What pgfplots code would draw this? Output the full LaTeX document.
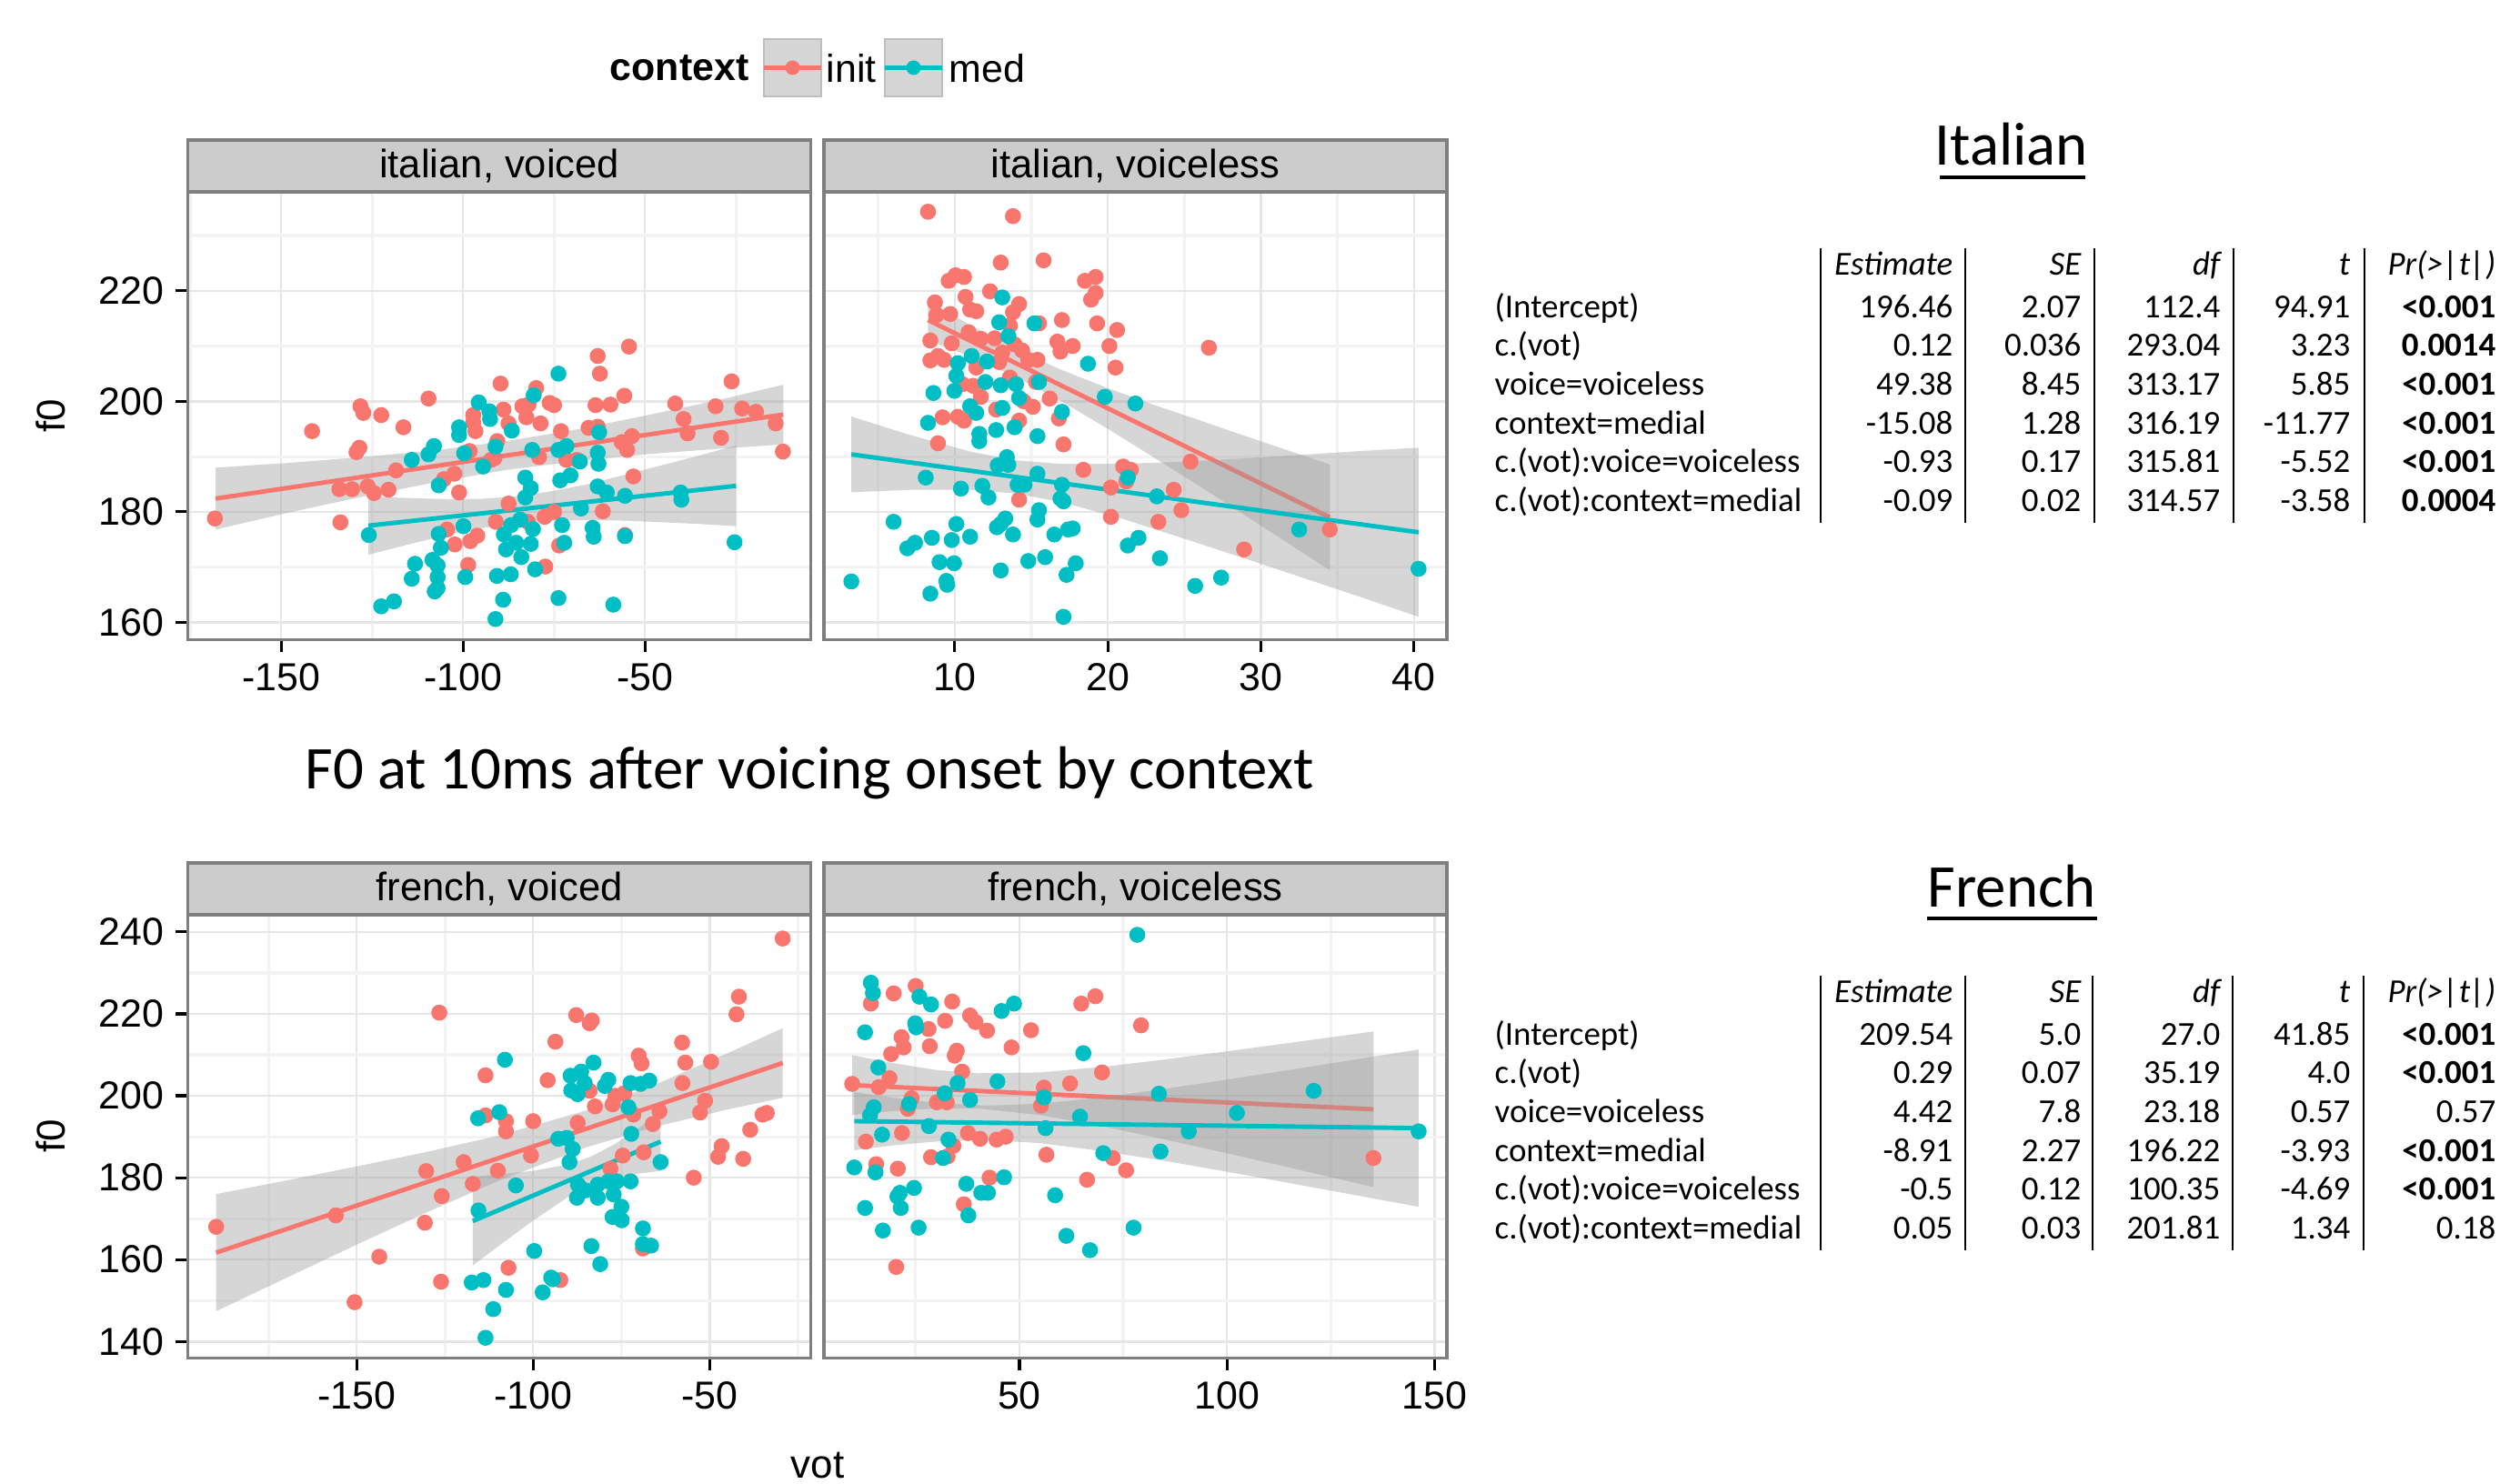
\documentclass[border=0pt]{standalone}
\usepackage{pgfplots}
\pgfplotsset{compat=1.18}
\usepackage{fontspec}
\setmainfont{Liberation Sans}
\newfontfamily\gill{Carlito}
\definecolor{ggred}{HTML}{F8766D}
\definecolor{ggcyan}{HTML}{00BFC4}
\definecolor{gridmaj}{HTML}{E6E6E6}
\definecolor{gridmin}{HTML}{F3F3F3}
\definecolor{panelborder}{HTML}{7F7F7F}
\definecolor{stripfill}{HTML}{CCCCCC}
\definecolor{bandgray}{HTML}{999999}
\definecolor{keyfill}{HTML}{D6D6D6}
\definecolor{keyborder}{HTML}{BEBEBE}
\pgfplotsset{
 ggpanel/.style={
  scale only axis, width=6.85cm,
  axis line style={draw=panelborder, line width=0.9pt},
  tick align=outside, tick pos=left,
  major tick length=0.14cm, minor tick length=0pt,
  tick style={black, line width=0.9pt},
  xmajorgrids, ymajorgrids, xminorgrids, yminorgrids,
  major grid style={gridmaj, line width=0.7pt},
  minor grid style={gridmin, line width=0.9pt},
  tick label style={font=\fontsize{12.2}{14}\selectfont, black},
 },
 toprow/.style={height=4.923cm, ymin=156.9, ymax=237.9, ytick={160,180,200,220}, yticklabels={160,180,200,220}, minor ytick={170,190,210,230}},
 botrow/.style={height=4.873cm, ymin=136.0, ymax=244.2, ytick={140,160,180,200,220,240}, yticklabels={140,160,180,200,220,240}, minor ytick={150,170,190,210,230}},
 noy/.style={ymajorticks=false, yticklabels={}},
 ptred/.style={only marks, mark=*, mark size=2.3pt, color=ggred, mark options={draw=none}},
 ptcyan/.style={only marks, mark=*, mark size=2.3pt, color=ggcyan, mark options={draw=none}},
 band/.style={fill=bandgray, fill opacity=0.4, draw=none},
 fitred/.style={ggred, line width=1.4pt, no marks},
 fitcyan/.style={ggcyan, line width=1.4pt, no marks},
}
\newcommand{\trow}[7]{%
 \node[anchor=mid west,inner sep=0] at (16.43,#1) {#2};
 \node[anchor=mid east,inner sep=0] at (21.48,#1) {#3};
 \node[anchor=mid east,inner sep=0] at (22.89,#1) {#4};
 \node[anchor=mid east,inner sep=0] at (24.42,#1) {#5};
 \node[anchor=mid east,inner sep=0] at (25.85,#1) {#6};
 \node[anchor=mid east,inner sep=0] at (27.45,#1) {#7};}
\begin{document}
\begin{tikzpicture}
\useasboundingbox (0,0) rectangle (27.49,16.32);
% ---------------- top left: italian, voiced
\begin{axis}[ggpanel, toprow, at={(2.067cm,9.287cm)}, anchor=south west,
 xmin=-175.6, xmax=-4.4, xtick={-150,-100,-50}, xticklabels={-150,-100,-50}, minor xtick={-175,-125,-75,-25}]
\addplot[ptred] coordinates {(-168.2,178.8) (-141.5,194.6) (-133.7,178.1) (-134,184.1) (-130.5,184.1) (-129.3,190.8) (-128.5,191.6) (-128.2,199.1) (-127.4,197.9) (-126.2,184.6) (-124.5,183.4) (-122.5,197.5) (-120.5,184) (-118.4,187.5) (-116.4,195.3) (-109.5,200.5) (-105.3,185.9) (-104.4,176.8) (-102.4,186.9) (-102.3,174.1) (-101.1,183.5) (-98.6,170.4) (-98.2,191) (-98,174.7) (-97.2,197.5) (-97.2,196.2) (-96.6,194.6) (-96.1,175.7) (-92.3,189.4) (-91.4,189.7) (-91,178.2) (-90.6,192.8) (-89.7,203.2) (-88.9,198.5) (-87.5,196) (-87.5,181.5) (-83.7,199.1) (-82.6,197.1) (-82,199.4) (-82.2,178.2) (-79.9,202.4) (-79.1,189.9) (-78.7,196) (-77.6,179.1) (-77.4,170.1) (-76.2,199.7) (-75,199.3) (-75,180) (-73.6,173.9) (-73.1,194.6) (-71.6,189.4) (-68.7,189.4) (-65.5,195.2) (-63,208.2) (-62.4,205) (-63.6,199.3) (-63,195.4) (-61.6,180.1) (-59.5,199.4) (-56.4,192.6) (-55.7,201) (-54.9,191.2) (-54.4,209.9) (-55.5,175.8) (-53.6,193.7) (-53.2,186.4) (-41.7,199.6) (-39.4,196.8) (-38.3,194.2) (-30.6,199.1) (-29.1,193.4) (-26.2,203.6) (-23.3,198.7) (-19.5,198.1) (-14.1,196) (-12.1,190.9)};
\addplot[ptcyan] coordinates {(-125.9,175.8) (-122.5,162.9) (-119,163.8) (-114.1,189.4) (-113.2,170.6) (-114.1,167.9) (-109.5,190.4) (-108,191.9) (-108.4,171.3) (-107,170.3) (-107,168.2) (-107.8,165.6) (-107,166.2) (-106.7,184.8) (-106.1,173.5) (-106.7,176) (-101.1,195.3) (-101.1,193.9) (-99.7,190.6) (-99.9,177.4) (-99.4,168.2) (-95.7,199.8) (-94.5,188.2) (-92.8,198.2) (-92.6,196.8) (-91.1,191.8) (-90.7,168.4) (-91.1,160.6) (-89,164.1) (-88.8,175.9) (-88.2,173.2) (-86.6,194.7) (-86.8,177.6) (-86.9,168.7) (-85.4,174.4) (-84.3,178.6) (-84,171.8) (-82.9,182.6) (-82.9,186.2) (-81.4,184.3) (-81,191.2) (-81.4,174.2) (-80.8,176.9) (-80.6,201.1) (-80.2,169.6) (-73.8,205) (-73.8,164.4) (-73.8,191.2) (-73.3,185.7) (-72.8,177.6) (-72.2,174.4) (-71.6,191.9) (-70.5,186.6) (-67.9,189.1) (-67.6,180.6) (-64.4,177.1) (-64.1,175.5) (-63,190.7) (-62.8,188.7) (-63,184.6) (-62.6,194.4) (-60.5,183.5) (-58.7,163.2) (-55.5,182.9) (-55.5,175.6) (-40.2,183.5) (-40,182.2) (-25.4,174.5)};
\addplot[band] coordinates {(-168,188.0) (-148,188.85) (-128,189.9) (-108,191.1) (-88,192.8) (-68,195.0) (-50,197.4) (-30,200.2) (-12,203.0) (-12,192.2) (-30,191.4) (-50,190.4) (-68,189.2) (-88,187.6) (-108,185.3) (-128,182.7) (-148,179.85) (-168,176.8)} -- cycle;
\addplot[fitred] coordinates {(-168,182.4) (-12,197.6)};
\addplot[band] coordinates {(-126,182.75) (-115,182.5) (-105,182.3) (-95,182.35) (-85,182.8) (-75,183.8) (-65,185.1) (-55,186.8) (-45,188.5) (-35,190.2) (-25,192.0) (-25,177.4) (-35,177.8) (-45,178.1) (-55,178.4) (-65,178.5) (-75,178.45) (-85,178.0) (-95,177.05) (-105,175.7) (-115,174.1) (-126,172.25)} -- cycle;
\addplot[fitcyan] coordinates {(-126,177.5) (-25,184.7)};
\end{axis}
% ---------------- top right: italian, voiceless
\begin{axis}[ggpanel, toprow, noy, at={(9.06cm,9.287cm)}, anchor=south west,
 xmin=1.45, xmax=42.15, xtick={10,20,30,40}, xticklabels={10,20,30,40}, minor xtick={5,15,25,35}]
\addplot[ptred] coordinates {(8.25,234.3) (13.8,233.5) (13.0,225.1) (15.8,225.5) (9.6,221.8) (10.05,222.8) (10.6,222.5) (10.7,218.9) (12.3,219.9) (8.7,217.9) (18.5,221.8) (19.2,222.5) (19.2,219.6) (18.9,218.4) (11.0,216.6) (11.4,216.3) (8.8,215.6) (9.7,215.8) (13.8,216.1) (14.2,217.6) (13.6,213.7) (15.5,214.1) (17.0,214.7) (19.3,214.1) (20.6,212.9) (10.9,212.5) (11.7,211.3) (12.6,211.4) (8.4,211) (9.8,210.5) (13.9,210.3) (13.1,208.8) (14.4,209.2) (16.7,210.8) (17.7,210) (20.1,210) (16.9,209) (8.4,207.4) (8.9,208.2) (9.3,207.5) (11.4,206.1) (12.9,207.1) (14.8,207.5) (15.4,207.5) (20.5,206.1) (26.6,209.7) (10.5,203.1) (11.2,202.8) (13.6,204.3) (15.3,203.5) (11.7,200.8) (16.2,200.5) (14.5,200) (15.1,199) (9.2,197.1) (10.2,197.2) (10.6,196.5) (12.7,198.5) (14.2,196.5) (16.8,196.9) (8.9,192.4) (17.1,192.2) (18.4,187.6) (21.0,188.2) (21.5,187.6) (21.2,185.5) (25.4,189.1) (20.2,184.4) (14.2,182.2) (24.3,184) (24.8,180.3) (20.2,179.1) (23.3,178.2) (34.5,176.8) (28.9,173.2)};
\addplot[ptcyan] coordinates {(3.24,167.4) (6.0,178.2) (6.9,173.4) (7.4,174.4) (8.1,186.2) (8.25,196.1) (8.6,201.5) (8.4,165.2) (8.5,175.3) (9.0,170.9) (9.45,167.5) (9.5,166.8) (9.8,174.9) (9.95,170.7) (9.97,201.9) (10.1,177.8) (10.1,204.6) (10.2,206.9) (10.4,184.2) (11.0,199.1) (11.0,175.5) (11.1,208.2) (11.4,197.9) (11.6,194.1) (11.6,192.8) (11.8,184.7) (12.0,203.5) (12.1,207.2) (12.2,182.6) (12.7,194.8) (12.8,188.4) (12.75,177.2) (13.0,169.4) (13.0,177.8) (13.0,202.9) (13.1,198.8) (12.9,214.3) (13.1,218.8) (13.3,178.8) (13.4,189.9) (13.5,188.5) (13.5,211.8) (13.8,175.9) (13.9,195.3) (14.0,203.1) (14.2,200.6) (14.1,184.9) (14.55,184.9) (14.8,171.1) (15.2,214.1) (15.4,186.9) (15.4,193.7) (15.5,180.3) (15.4,178.6) (15.5,203.5) (15.9,171.8) (16.5,175.9) (17.0,184.9) (16.9,182.4) (17.0,198.1) (17.1,181.9) (17.3,168.6) (17.1,161) (17.4,176.8) (17.7,177) (17.9,170.7) (18.7,206.8) (19.8,200.8) (21.3,173.9) (21.3,186.2) (21.8,199.6) (22.0,175.3) (23.2,182.8) (23.4,171.6) (25.7,166.6) (27.4,168.1) (32.5,176.8) (40.3,169.7)};
\addplot[band] coordinates {(8.25,218.3) (11,213.8) (14,209.4) (17,205.64) (20,202.38) (23,199.36) (26,196.56) (29,193.7) (32,190.89) (34.5,188.57) (34.5,169.43) (32,173.91) (29,179.3) (26,184.64) (23,189.84) (20,195.02) (17,199.96) (14,204.4) (11,208.12) (8.25,211.1)} -- cycle;
\addplot[fitred] coordinates {(8.25,214.7) (34.5,179.0)};
\addplot[band] coordinates {(3.24,197.25) (7,193.97) (11,190.91) (14,189.3) (17,188.66) (21,188.7) (25,189.07) (29,189.69) (33,190.37) (36.5,191.0) (40.3,191.6) (40.3,161.0) (36.5,164.6) (33,167.83) (29,171.51) (25,175.13) (21,178.7) (17,181.74) (14,183.3) (11,183.99) (7,183.97) (3.24,183.55)} -- cycle;
\addplot[fitcyan] coordinates {(3.24,190.4) (40.3,176.3)};
\end{axis}
% ---------------- bottom left: french, voiced
\begin{axis}[ggpanel, botrow, at={(2.067cm,1.387cm)}, anchor=south west,
 xmin=-197.8, xmax=-21.3, xtick={-150,-100,-50}, xticklabels={-150,-100,-50}, minor xtick={-175,-125,-75,-25}]
\addplot[ptred] coordinates {(-189.8,168.0) (-155.9,170.8) (-150.6,149.6) (-143.6,160.7) (-130.7,169.0) (-130.3,181.6) (-126.6,220.3) (-126.1,154.6) (-125.9,175.5) (-119.7,183.8) (-117.1,178.5) (-113.5,205.0) (-113.5,195.2) (-110.0,181.7) (-107.7,193.8) (-107.7,191.3) (-107.0,158.0) (-100.6,185.4) (-100.0,193.8) (-95.9,203.8) (-93.7,213.2) (-92.3,155.0) (-87.8,219.7) (-87.4,193.4) (-84.0,201.2) (-84.0,217.7) (-83.4,218.4) (-82.5,197.4) (-78.1,182.2) (-77.5,197.9) (-76.7,200.0) (-74.6,185.4) (-74.2,200.6) (-71.6,195.4) (-70.1,209.8) (-69.3,207.9) (-68.7,186.2) (-68.9,162.7) (-66.1,193.1) (-64.2,196.2) (-57.8,213.0) (-56.9,208.1) (-57.7,203.1) (-54.5,180.0) (-52.7,195.9) (-51.3,198.8) (-49.6,208.3) (-47.6,185.1) (-46.6,187.7) (-42.4,219.9) (-41.7,224.2) (-40.5,184.6) (-38.5,191.7) (-35.0,195.4) (-33.8,195.8) (-29.3,238.4)};
\addplot[ptcyan] coordinates {(-115.6,194.5) (-115.5,172.0) (-117.4,154.4) (-114.1,155.0) (-113.5,140.9) (-111.3,147.9) (-109.6,196.0) (-108.0,208.8) (-107.7,152.6) (-104.9,178.1) (-99.7,162.1) (-97.3,152.0) (-94.9,155.6) (-94.4,155.2) (-92.9,189.5) (-90.5,189.7) (-89.7,183.8) (-88.8,187.0) (-89.4,204.9) (-89.2,201.3) (-87.4,200.4) (-87.3,178.3) (-87.6,175.1) (-86.4,205.9) (-85.4,203.1) (-85.2,176.9) (-83.5,163.3) (-82.9,208.1) (-81.7,175.1) (-81.7,178.3) (-81.0,158.9) (-79.7,202.4) (-78.7,203.9) (-78.7,179.1) (-77.2,175.9) (-77.5,170.4) (-76.3,179.1) (-75.0,172.9) (-74.9,169.6) (-73.0,197.2) (-72.4,203.1) (-72.4,179.1) (-72.2,190.7) (-69.6,202.9) (-68.9,167.6) (-68.9,163.8) (-67.1,203.7) (-66.6,163.4) (-63.9,183.8)};
\addplot[band] coordinates {(-189.8,176.0) (-170,179.3) (-150,182.75) (-130,186.31) (-110,190.24) (-85,196.4) (-65,202.89) (-45,210.36) (-29.3,216.5) (-29.3,199.5) (-45,196.64) (-65,192.51) (-85,187.4) (-110,179.16) (-130,171.59) (-150,163.65) (-170,155.5) (-189.8,147.4)} -- cycle;
\addplot[fitred] coordinates {(-189.8,161.7) (-29.3,208.0)};
\addplot[band] coordinates {(-117.1,180.25) (-110,180.8) (-100,181.67) (-90,183.26) (-84,185.0) (-77,188.12) (-70,192.18) (-63.9,195.95) (-63.9,181.65) (-70,181.02) (-77,179.88) (-84,178.0) (-90,175.34) (-100,169.53) (-110,163.2) (-117.1,158.55)} -- cycle;
\addplot[fitcyan] coordinates {(-117.1,169.4) (-63.9,188.8)};
\end{axis}
% ---------------- bottom right: french, voiceless
\begin{axis}[ggpanel, botrow, noy, at={(9.06cm,1.387cm)}, anchor=south west,
 xmin=2.9, xmax=153.0, xtick={50,100,150}, xticklabels={50,100,150}, minor xtick={25,75,125}]
\addplot[ptred] coordinates {(9.7,202.9) (13.0,188.8) (14.2,222.5) (15.5,183.3) (16.1,202.1) (18.7,204.3) (19.1,210.2) (19.7,225.0) (20.3,158.2) (20.7,182.2) (21.6,214.3) (21.7,190.9) (22.1,211.8) (23.1,196.8) (24.0,199.4) (25.0,226.8) (28.1,216.3) (28.4,212.1) (28.7,185.0) (30.1,198.4) (32.1,218.3) (32.5,198.4) (32.7,185.2) (33.8,223.0) (34.1,187.8) (34.4,209.8) (34.9,211.0) (36.2,205.9) (36.6,173.5) (37.6,190.9) (38.1,219.6) (39.4,218.0) (40.5,189.5) (42.2,215.9) (42.8,180.0) (44.5,189.3) (46.7,190.0) (48.1,211.8) (52.8,216.0) (55.2,197.6) (55.9,202.0) (56.5,185.6) (62.2,203.0) (64.9,222.5) (66.3,179.5) (68.3,224.3) (69.9,205.7) (72.5,184.8) (75.7,181.8) (79.3,217.2) (135.3,184.8)};
\addplot[ptcyan] coordinates {(10.2,182.5) (12.8,172.6) (12.8,215.5) (14.0,195.2) (14.2,227.6) (14.7,225.1) (14.9,197.2) (15.3,181.3) (16.0,206.9) (16.9,190.5) (17.1,167.1) (20.6,175.4) (21.2,176.3) (21.4,172.6) (23.4,198.0) (24.6,177.5) (24.9,217.7) (25.1,216.7) (25.9,224.2) (25.7,167.8) (28.2,192.6) (28.7,222.3) (31.6,184.8) (32.0,200.6) (32.9,189.3) (35.1,203.1) (37.2,178.5) (37.7,170.8) (38.1,199.0) (40.8,176.3) (42.4,176.3) (44.7,203.5) (45.7,220.7) (46.3,180.1) (48.7,222.5) (55.9,199.6) (56.3,192.1) (58.6,175.7) (61.3,165.8) (64.6,194.9) (65.4,210.4) (67.0,162.3) (70.2,186.0) (77.5,167.8) (78.4,239.3) (83.6,200.5) (84.0,186.4) (90.8,191.3) (102.4,195.8) (120.9,201.2) (146.2,191.3)};
\addplot[band] coordinates {(9.7,209.9) (20,207.9) (30,206.3) (40,205.5) (55,205.7) (70,207.05) (85,208.86) (100,210.85) (115,212.9) (135.3,215.7) (135.3,177.7) (115,182.5) (100,185.95) (85,189.34) (70,192.55) (55,195.3) (40,196.9) (30,196.9) (20,196.3) (9.7,195.3)} -- cycle;
\addplot[fitred] coordinates {(9.7,202.6) (135.3,196.7)};
\addplot[band] coordinates {(10.2,200.9) (20,199.47) (30,198.27) (42,197.6) (55,198.06) (70,199.61) (85,201.7) (100,203.95) (115,206.3) (130,208.7) (146.2,211.3) (146.2,172.9) (130,175.9) (115,178.7) (100,181.45) (85,184.1) (70,186.49) (55,188.44) (42,189.2) (30,188.83) (20,187.93) (10.2,186.7)} -- cycle;
\addplot[fitcyan] coordinates {(10.2,193.8) (146.2,192.1)};
\end{axis}
% ---------------- strips
\foreach \xa/\xb/\ya/\yb/\t in {2.067/8.917/14.21/14.78/{italian, voiced}, 9.06/15.91/14.21/14.78/{italian, voiceless}, 2.067/8.917/6.26/6.83/{french, voiced}, 9.06/15.91/6.26/6.83/{french, voiceless}}{
 \draw[fill=stripfill, draw=panelborder, line width=0.9pt] (\xa,\ya) rectangle (\xb,\yb);
 \node[font=\fontsize{12.4}{14}\selectfont] at ({(\xa+\xb)/2},{(\ya+\yb)/2}) {\t};
}
% axis titles
\node[rotate=90, font=\fontsize{12.5}{14}\selectfont] at (0.56,11.75) {f0};
\node[rotate=90, font=\fontsize{12.5}{14}\selectfont] at (0.56,3.825) {f0};
\node[font=\fontsize{12.5}{14}\selectfont] at (8.99,0.2) {vot};
% legend
\node[anchor=east, inner sep=0, font=\fontsize{12.2}{14}\bfseries\selectfont] at (8.24,15.57) {context};
\draw[fill=keyfill, draw=keyborder, line width=0.6pt] (8.40,15.26) rectangle (9.03,15.89);
\draw[ggred, line width=1.4pt] (8.40,15.575) -- (9.03,15.575);
\fill[ggred] (8.715,15.575) circle (0.08);
\node[anchor=west, inner sep=0, font=\fontsize{12.2}{14}\selectfont] at (9.08,15.57) {init};
\draw[fill=keyfill, draw=keyborder, line width=0.6pt] (9.73,15.26) rectangle (10.36,15.89);
\draw[ggcyan, line width=1.4pt] (9.73,15.575) -- (10.36,15.575);
\fill[ggcyan] (10.045,15.575) circle (0.08);
\node[anchor=west, inner sep=0, font=\fontsize{12.2}{14}\selectfont] at (10.43,15.57) {med};
% title
\node[font=\gill\fontsize{19}{22}\selectfont] at (8.9,7.82) {F0 at 10ms after voicing onset by context};
% ---------------- tables
\begin{scope}[font=\gill\fontsize{10.5}{12}\selectfont]
\node[anchor=base, inner sep=0, font=\gill\fontsize{19}{22}\selectfont] at (22.12,14.50) {Italian};
\draw[line width=1.2pt] (21.33,14.37) -- (22.93,14.37);
\foreach \x in {20.02,21.61,23.03,24.56,26.00} \draw[line width=0.8pt] (\x,13.59) -- (\x,10.57);
\trow{13.39}{}{\itshape Estimate}{\itshape SE}{\itshape df}{\itshape t}{\itshape Pr(>|t|)}
\trow{12.92}{(Intercept)}{196.46}{2.07}{112.4}{94.91}{\bfseries <0.001}
\trow{12.50}{c.(vot)}{0.12}{0.036}{293.04}{3.23}{\bfseries 0.0014}
\trow{12.07}{voice=voiceless}{49.38}{8.45}{313.17}{5.85}{\bfseries <0.001}
\trow{11.64}{context=medial}{-15.08}{1.28}{316.19}{-11.77}{\bfseries <0.001}
\trow{11.22}{c.(vot):voice=voiceless}{-0.93}{0.17}{315.81}{-5.52}{\bfseries <0.001}
\trow{10.79}{c.(vot):context=medial}{-0.09}{0.02}{314.57}{-3.58}{\bfseries 0.0004}
\node[anchor=base, inner sep=0, font=\gill\fontsize{19}{22}\selectfont] at (22.12,6.34) {French};
\draw[line width=1.2pt] (21.19,6.22) -- (23.06,6.22);
\foreach \x in {20.02,21.61,23.01,24.55,25.99} \draw[line width=0.8pt] (\x,5.59) -- (\x,2.57);
\trow{5.39}{}{\itshape Estimate}{\itshape SE}{\itshape df}{\itshape t}{\itshape Pr(>|t|)}
\trow{4.92}{(Intercept)}{209.54}{5.0}{27.0}{41.85}{\bfseries <0.001}
\trow{4.50}{c.(vot)}{0.29}{0.07}{35.19}{4.0}{\bfseries <0.001}
\trow{4.07}{voice=voiceless}{4.42}{7.8}{23.18}{0.57}{0.57}
\trow{3.64}{context=medial}{-8.91}{2.27}{196.22}{-3.93}{\bfseries <0.001}
\trow{3.22}{c.(vot):voice=voiceless}{-0.5}{0.12}{100.35}{-4.69}{\bfseries <0.001}
\trow{2.79}{c.(vot):context=medial}{0.05}{0.03}{201.81}{1.34}{0.18}
\end{scope}
\end{tikzpicture}
\end{document}
